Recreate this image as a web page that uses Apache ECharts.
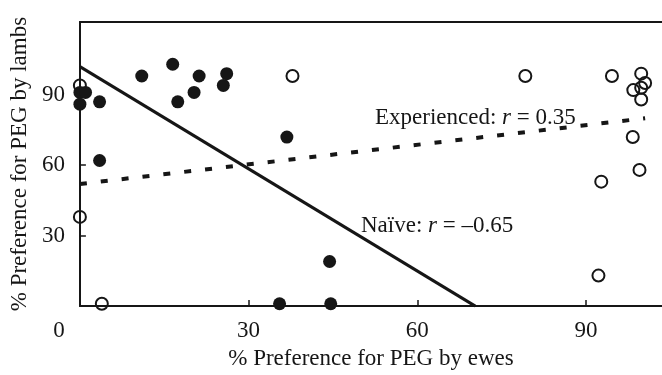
<!DOCTYPE html>
<html>
<head>
<meta charset="utf-8">
<script src="https://cdn.jsdelivr.net/npm/echarts@6/dist/echarts.min.js"></script>
<style>
  html, body { margin: 0; padding: 0; background: #fff; }
  #main { width: 662px; height: 375px; }
</style>
</head>
<body>
<div id="main"></div>
<script>
// naive lambs (filled), [ewes %, lambs %]
const naive = [
  [0, 91], [1, 91], [0, 86], [3.5, 87], [3.5, 62], [11, 98], [16.5, 103],
  [17.4, 87], [20.3, 91], [21.2, 98], [25.5, 94], [26.1, 99], [36.8, 72],
  [44.4, 19], [35.5, 1], [44.6, 1]
];
// experienced lambs (open)
const experienced = [
  [0, 94], [0, 38], [3.9, 1], [37.8, 98], [79.2, 98], [94.6, 98], [99.8, 99],
  [100.5, 95], [98.4, 92], [99.8, 93], [99.8, 88], [98.3, 72], [99.5, 58],
  [92.7, 53], [92.2, 13]
];
const naiveFit = [[0, 102], [70.3, 0]];
const experiencedFit = [[0, 52], [100.5, 80]];
const xTicks = [0, 30, 60, 90];
const yTicks = [30, 60, 90];

const ink = '#161616';
const serif = '"Liberation Serif", "DejaVu Serif", serif';

const chartDom = document.getElementById('main');
const myChart = echarts.init(chartDom, null, { renderer: 'canvas' });

const note = (x, y, head, tail) => ({
  type: 'text',
  x: x,
  y: y,
  style: {
    text: '{n|' + head + '}{i|r}{n|' + tail + '}',
    fill: ink,
    verticalAlign: 'middle',
    rich: {
      n: { fontFamily: serif, fontSize: 23, color: ink },
      i: { fontFamily: serif, fontSize: 23, fontStyle: 'italic', color: ink }
    }
  }
});

myChart.setOption({
  animation: false,
  textStyle: { fontFamily: serif },
  grid: { left: 78, right: 0, top: 22, bottom: 63 },
  xAxis: [
    {
      type: 'value',
      min: 0,
      max: 103.5,
      interval: 30,
      name: '% Preference for PEG by ewes',
      nameLocation: 'middle',
      nameGap: 40,
      nameTextStyle: { fontFamily: serif, fontSize: 23, color: ink },
      axisLine: { onZero: false, lineStyle: { color: ink, width: 2 } },
      axisTick: { inside: true, length: 6, customValues: xTicks.slice(1), lineStyle: { color: ink, width: 1.5 } },
      axisLabel: {
        customValues: xTicks,
        margin: 13,
        fontFamily: serif,
        fontSize: 23,
        color: ink,
        formatter: v => (v === 0 ? '{z|0}' : String(v)),
        rich: { z: { fontFamily: serif, fontSize: 23, color: ink, padding: [0, 42, 0, 0] } }
      },
      splitLine: { show: false }
    },
    {
      type: 'value',
      position: 'top',
      min: 0,
      max: 103.5,
      axisLine: { show: true, onZero: false, lineStyle: { color: ink, width: 2 } },
      axisTick: { show: false },
      axisLabel: { show: false },
      splitLine: { show: false }
    }
  ],
  yAxis: {
    type: 'value',
    min: 0,
    max: 121,
    interval: 30,
    name: '% Preference for PEG by lambs',
    nameLocation: 'middle',
    nameGap: 48,
    nameTextStyle: { fontFamily: serif, fontSize: 23, color: ink },
    axisLine: { show: true, onZero: false, lineStyle: { color: ink, width: 2 } },
    axisTick: { inside: true, length: 6, customValues: yTicks, lineStyle: { color: ink, width: 1.5 } },
    axisLabel: { customValues: yTicks, margin: 15, fontFamily: serif, fontSize: 23, color: ink },
    splitLine: { show: false }
  },
  graphic: [
    note(375, 118, 'Experienced: ', ' = 0.35'),
    note(361, 226, 'Naïve: ', ' = –0.65')
  ],
  series: [
    {
      name: 'Naive fit',
      type: 'line',
      data: naiveFit,
      symbol: 'none',
      lineStyle: { color: ink, width: 3 }
    },
    {
      name: 'Experienced fit',
      type: 'line',
      data: experiencedFit,
      symbol: 'none',
      lineStyle: { color: ink, width: 4, type: [7, 14] }
    },
    {
      name: 'Experienced',
      type: 'scatter',
      data: experienced,
      symbolSize: 12,
      clip: false,
      itemStyle: { color: 'rgba(0,0,0,0)', borderColor: ink, borderWidth: 2, opacity: 1 }
    },
    {
      name: 'Naive',
      type: 'scatter',
      data: naive,
      symbolSize: 13,
      clip: false,
      itemStyle: { color: ink, opacity: 1 }
    }
  ]
});
</script>
</body>
</html>
